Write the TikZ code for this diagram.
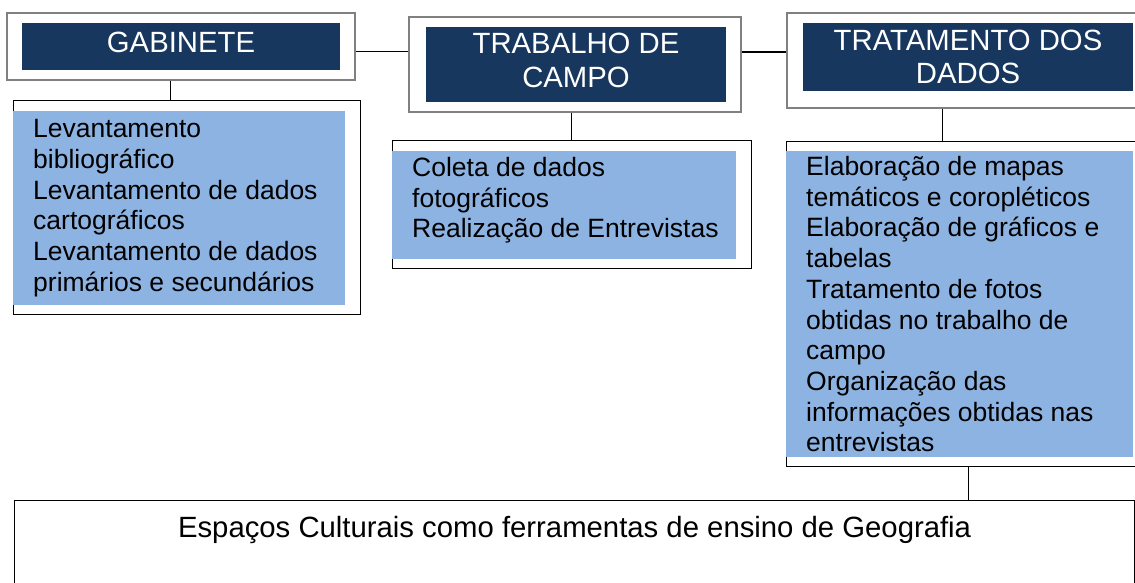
\documentclass[tikz,border=0pt]{standalone}
\usepackage{fontspec}
\setmainfont{Liberation Sans}
\usetikzlibrary{calc,positioning}
\definecolor{titlecolor}{RGB}{23,55,94}
\definecolor{itemcolor}{RGB}{141,179,226}
\newcommand{\padlow}{\rule[-8pt]{0pt}{8pt}}
\tikzset{
	headbox/.style={
		rectangle,
		draw=gray,
		line width=1.2pt,
		fill=white
	},
	headtitle/.style={
		rectangle,
		fill=titlecolor,
		text=white,
		align=center,
		inner sep=0pt,
		font=\fontsize{29.3}{33.7}\selectfont
	},
	itembox/.style={
		rectangle,
		draw=black,
		line width=1.2pt,
		fill=white
	},
	itemfill/.style={
		rectangle,
		fill=itemcolor,
		inner sep=0pt
	},
	itemtext/.style={
		align=left,
		inner sep=0pt,
		font=\fontsize{26.5}{30.7}\selectfont
	},
	topicbox/.style={
		rectangle,
		draw=black,
		line width=1.2pt,
		fill=white
	},
	link/.style={
		draw=black,
		line width=1.5pt
	},
}

\begin{document}
\begin{tikzpicture}[x=1pt,y=-1pt]
			\useasboundingbox (0,0) rectangle (1135,582);
			\clip (0,0) rectangle (1135,582);
			% etapas
			\node[headbox,minimum width=348,minimum height=67] (gab) at (181,46.5) {};
			\node[headtitle,minimum width=318,minimum height=47] (gabtitle) at (gab.center) {GABINETE\padlow};
			\node[headbox,minimum width=332,minimum height=95] (cam) at (575,64.5) {};
			\node[headtitle,minimum width=300,minimum height=75] (camtitle) at (576,64.5) {TRABALHO DE\\CAMPO\padlow};
			\node[headbox,minimum width=362,minimum height=95] (tra) at (968,60.5) {};
			\node[headtitle,minimum width=330,minimum height=68] (tratitle) at (968,57) {TRATAMENTO DOS\\DADOS};
			
			% atividades
			\node[itembox,minimum width=347,minimum height=214,anchor=north west] (gabdet) at (13,100) {};
			\node[itemfill,minimum width=332,minimum height=194,anchor=north west] (gabfill) at (13,111) {};
			\node[itemtext,anchor=west] (gabtxt) at ([xshift=20pt]gabfill.west) {Levantamento\\bibliográfico\\Levantamento de dados\\cartográficos\\Levantamento de dados\\primários e secundários};
			
			\node[itembox,minimum width=359,minimum height=128,anchor=north west] (camdet) at (392,140) {};
			\node[itemfill,minimum width=344,minimum height=108,anchor=north west] (camfill) at (392,151) {};
			\node[itemtext,anchor=west] (camtxt) at ([xshift=20pt,yshift=5pt]camfill.west) {Coleta de dados\\fotográficos\\Realização de Entrevistas};
			
			\node[itembox,minimum width=364,minimum height=325,anchor=north west] (tradet) at (786,141) {};
			\node[itemfill,minimum width=347,minimum height=306,anchor=north west] (trafill) at (786,151) {};
			\node[itemtext,anchor=west] (tratxt) at ([xshift=20pt]trafill.west) {Elaboração de mapas\\temáticos e coropléticos\\Elaboração de gráficos e\\tabelas\\Tratamento de fotos\\obtidas no trabalho de\\campo\\Organização das\\informações obtidas nas\\entrevistas};
			
			% tema
			\node[topicbox,minimum width=1120,minimum height=100,anchor=north west] (topic) at (14,500) {};
			\node[anchor=base,font=\fontsize{29.3}{33.7}\selectfont] (topictxt) at ($(topic.north)+(0,37)$) {Espaços Culturais como ferramentas de ensino de Geografia};
			
			\draw[link] ($(gab.north east)!0.57!(gab.south east)$) coordinate (g1) -- (g1 -| cam.west);
			\draw[link] ($(cam.north east)!0.37!(cam.south east)$) coordinate (c1) -- (c1 -| tra.west);
			\draw[link] ($(gab.south west)!0.47!(gab.south east)$) coordinate (g2) -- (g2 |- gabdet.north);
			\draw[link] ($(cam.south west)!0.49!(cam.south east)$) coordinate (c2) -- (c2 |- camdet.north);
			\draw[link] ($(tra.south west)!0.43!(tra.south east)$) coordinate (t2) -- (t2 |- tradet.north);
			\draw[link] (tradet.south) -- (tradet.south |- topic.north);
			%\draw[link] (gabdet.south) -- (gabdet.south |- topic.north);
\end{tikzpicture}
\end{document}
